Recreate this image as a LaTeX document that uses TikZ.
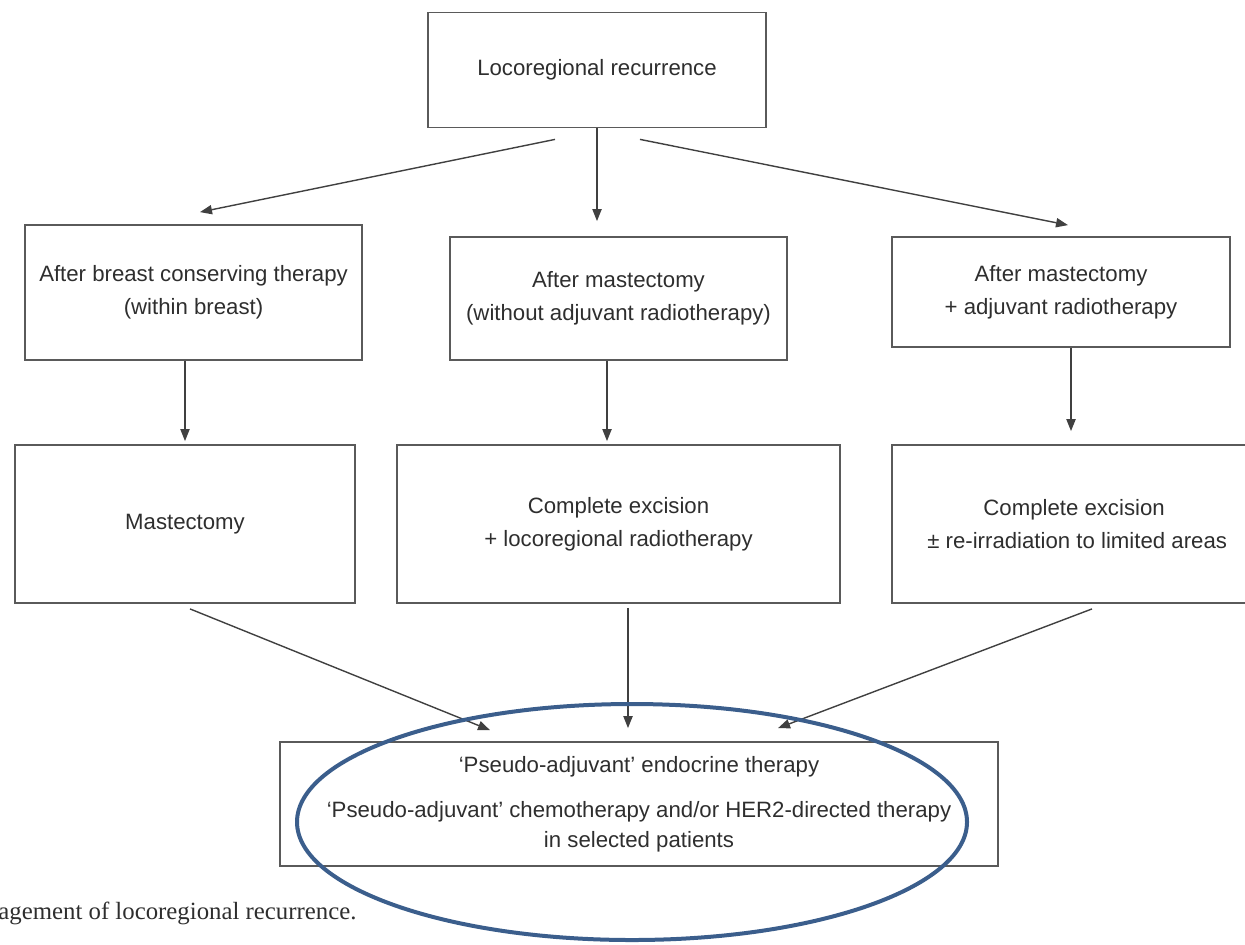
\documentclass[tikz,border=0pt]{standalone}
\usepackage{fontspec}
\setmainfont{Liberation Sans}
\newfontfamily\capfont{Liberation Serif}
\usepackage{tikz}
\usetikzlibrary{shapes.geometric,arrows.meta}
\definecolor{boxline}{HTML}{5A5A5A}
\definecolor{txtgray}{HTML}{2E2E2E}
\definecolor{ovalblue}{HTML}{3B5E8C}

\begin{document}
\begin{tikzpicture}[x=0.5pt,y=-0.5pt]
\useasboundingbox (0,0) rectangle (1245,944);
\clip (0,0) rectangle (1245,944);
\begin{scope}[every node/.style={draw=boxline, line width=0.9pt, text=txtgray, align=center, font=\fontsize{11.1}{16.5}\selectfont, inner sep=2pt}]
\node[minimum width=169pt, minimum height=57.5pt] (lrr) at (597,70) {Locoregional recurrence};
\node[minimum width=168.5pt, minimum height=67.5pt] (bct) at (193.5,292.5) {After breast conserving therapy\\(within breast)};
\node[minimum width=168.5pt, minimum height=61.5pt] (mast) at (618.5,298.5) {After mastectomy\\(without adjuvant radiotherapy)};
\node[minimum width=169pt, minimum height=55pt] (mastrt) at (1061,292) {After mastectomy\\+ adjuvant radiotherapy};
\node[minimum width=170pt, minimum height=79pt] (mastx) at (185,524) {Mastectomy};
\node[minimum width=221.5pt, minimum height=79pt] (excrt) at (618.5,524) {Complete excision\\+ locoregional radiotherapy};
\node[minimum width=179pt, minimum height=79pt] (excrr) at (1071,524) {\ Complete excision\\\ \ ± re-irradiation to limited areas};
\node[minimum width=359pt, minimum height=62pt] (pseudo) at (639,804) {`Pseudo-adjuvant' endocrine therapy\\[6pt]`Pseudo-adjuvant' chemotherapy and/or HER2-directed therapy\\[-1.5pt]in selected patients};
\end{scope}
\begin{scope}[>={Triangle[length=6pt,width=4.6pt]}, draw=black!75, line width=0.7pt]
\draw [->] ([xshift=-21pt,yshift=-5.5pt]lrr.south) -- ([xshift=3.25pt,yshift=6pt]bct.north);
\draw [->, shorten >=7.5pt] (lrr.south) -- (lrr.south |- mast.north);
\draw [->] ([xshift=21.5pt,yshift=-5.5pt]lrr.south) -- ([xshift=3.5pt,yshift=5.5pt]mastrt.north);
\draw [->, shorten >=1.5pt] (mastx.north |- bct.south) -- (mastx.north);
\draw [->, shorten >=1.5pt] ([xshift=-5.75pt]mast.south) -- ([xshift=-5.75pt]excrt.north);
\draw [->, shorten >=6.5pt] (excrr.north |- mastrt.south) -- (excrr.north);
\draw [->] ([xshift=2.5pt,yshift=-2.5pt]mastx.south) -- ([xshift=-74.5pt,yshift=5.5pt]pseudo.north);
\draw [->] ([xshift=4.75pt,yshift=-2pt]excrt.south) -- ([xshift=-5.5pt,yshift=6.5pt]pseudo.north);
\draw [->] ([xshift=10.5pt,yshift=-2.5pt]excrr.south) -- ([xshift=69.5pt,yshift=6.5pt]pseudo.north);
\end{scope}
\node[ellipse, draw=ovalblue, line width=2pt, minimum width=335pt, minimum height=118pt] (oval) at (632,822) {};
\node[anchor=west, inner sep=0pt, text=txtgray, font=\capfont\fontsize{12.4}{14}\selectfont] (cap) at (-2,913) {agement of locoregional recurrence.};
\end{tikzpicture}
\end{document}
